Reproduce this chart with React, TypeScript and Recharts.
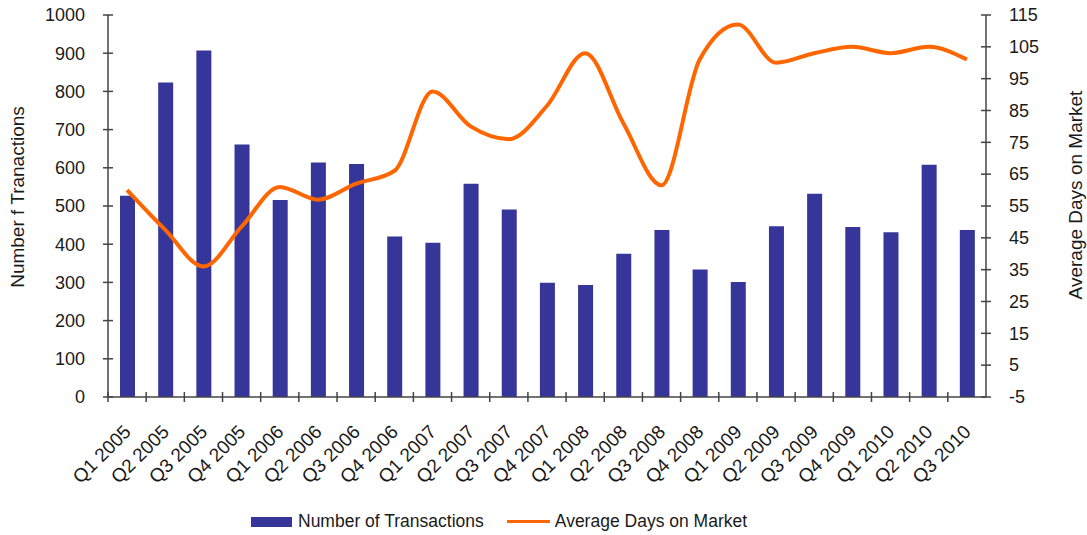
import React from 'react';
import { ComposedChart, Bar, Line, XAxis, YAxis, Legend } from 'recharts';

const quarters = [
  'Q1 2005', 'Q2 2005', 'Q3 2005', 'Q4 2005',
  'Q1 2006', 'Q2 2006', 'Q3 2006', 'Q4 2006',
  'Q1 2007', 'Q2 2007', 'Q3 2007', 'Q4 2007',
  'Q1 2008', 'Q2 2008', 'Q3 2008', 'Q4 2008',
  'Q1 2009', 'Q2 2009', 'Q3 2009', 'Q4 2009',
  'Q1 2010', 'Q2 2010', 'Q3 2010',
];
const transactions = [527, 823, 907, 661, 516, 614, 610, 420, 404, 558, 491, 299, 293, 375, 437, 334, 301, 447, 532, 445, 431, 608, 437];
const daysOnMarket = [60, 47.5, 36, 48.5, 61, 57, 62, 66, 91, 80, 76, 86.5, 103, 81, 61.5, 101, 112, 100, 103, 105, 103, 105, 101];
const leftTicks = [0, 100, 200, 300, 400, 500, 600, 700, 800, 900, 1000];
const rightTicks = [-5, 5, 15, 25, 35, 45, 55, 65, 75, 85, 95, 105, 115];

const data = quarters.map((q, i) => ({ q, transactions: transactions[i], days: daysOnMarket[i] }));

const FONT = 'Liberation Sans, Arial, sans-serif';
const AXIS = '#444';
const TEXT = '#1a1a1a';

const XTick = (props: any) => {
  const { x, y, payload } = props;
  const off = payload.offset || 0;
  const ax = x + 5;
  const ay = y + 36;
  return (
    <g>
      <line x1={x - off} x2={x - off} y1={y - 5} y2={y + 5} stroke={AXIS} strokeWidth={1.5} />
      <text x={ax} y={ay} transform={`rotate(-45 ${ax} ${ay})`} textAnchor="end" fontSize={19} fontFamily={FONT} fill={TEXT}>
        {payload.value}
      </text>
    </g>
  );
};

const LeftTick = (props: any) => {
  const { x, y, payload } = props;
  return (
    <g>
      <line x1={x - 5} x2={x + 5} y1={y} y2={y} stroke={AXIS} strokeWidth={1.5} />
      <text x={x - 23} y={y} dy="0.35em" textAnchor="end" fontSize={18} fontFamily={FONT} fill={TEXT}>
        {payload.value}
      </text>
    </g>
  );
};

const RightTick = (props: any) => {
  const { x, y, payload } = props;
  return (
    <g>
      <line x1={x - 5} x2={x + 5} y1={y} y2={y} stroke={AXIS} strokeWidth={1.5} />
      <text x={x + 23} y={y} dy="0.35em" textAnchor="start" fontSize={18} fontFamily={FONT} fill={TEXT}>
        {payload.value}
      </text>
    </g>
  );
};

const LegendContent = () => (
  <div style={{ position: 'relative', height: 30, fontFamily: FONT, fontSize: 17.5, color: TEXT }}>
    <div style={{ position: 'absolute', left: 251, top: 6, display: 'flex', alignItems: 'center', whiteSpace: 'nowrap' }}>
      <span style={{ display: 'inline-block', width: 41, height: 10, background: '#35359A', marginRight: 6 }} />
      <span>Number of Transactions</span>
      <span style={{ display: 'inline-block', width: 43, height: 3, background: '#FF6600', marginLeft: 23, marginRight: 5 }} />
      <span>Average Days on Market</span>
    </div>
  </div>
);

export default function App() {
  return (
    <div style={{ width: 1087, height: 535, background: '#fff' }}>
      <style>{'html, body { margin: 0; padding: 0; overflow: hidden; background: #fff; }'}</style>
      <ComposedChart width={1087} height={535} data={data} margin={{ top: 15, right: 0, bottom: 0, left: 0 }}>
        <XAxis
          dataKey="q"
          height={108}
          interval={0}
          tick={<XTick />}
          tickLine={false}
          tickSize={0}
          tickMargin={0}
          axisLine={{ stroke: AXIS, strokeWidth: 1.5 }}
        />
        <YAxis
          yAxisId="left"
          orientation="left"
          width={108}
          domain={[0, 1000]}
          ticks={leftTicks}
          interval={0}
          tick={<LeftTick />}
          tickLine={false}
          tickSize={0}
          tickMargin={0}
          axisLine={{ stroke: AXIS, strokeWidth: 1.5 }}
          label={() => (
            <text x={17} y={197} transform="rotate(-90 17 197)" textAnchor="middle" dominantBaseline="central" fontSize={19} fontFamily={FONT} fill={TEXT}>
              Number f Tranactions
            </text>
          )}
        />
        <YAxis
          yAxisId="right"
          orientation="right"
          width={101}
          domain={[-5, 115]}
          ticks={rightTicks}
          interval={0}
          tick={<RightTick />}
          tickLine={false}
          tickSize={0}
          tickMargin={0}
          axisLine={{ stroke: AXIS, strokeWidth: 1.5 }}
          label={() => (
            <text x={1075} y={195} transform="rotate(-90 1075 195)" textAnchor="middle" dominantBaseline="central" fontSize={19} fontFamily={FONT} fill={TEXT}>
              Average Days on Market
            </text>
          )}
        />
        <Legend verticalAlign="bottom" content={<LegendContent />} wrapperStyle={{ left: 0, width: 1087 }} />
        <Bar yAxisId="left" dataKey="transactions" name="Number of Transactions" fill="#35359A" barSize={15} isAnimationActive={false} />
        <Line yAxisId="right" dataKey="days" name="Average Days on Market" type="monotone" stroke="#FF6600" strokeWidth={4} dot={false} isAnimationActive={false} />
      </ComposedChart>
    </div>
  );
}
